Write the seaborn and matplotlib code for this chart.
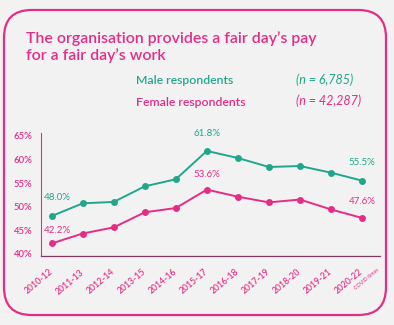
import matplotlib
matplotlib.use("Agg")
import matplotlib.pyplot as plt
import seaborn as sns
import pandas as pd
from matplotlib.patches import FancyBboxPatch

periods = ["2010-12", "2011-13", "2012-14", "2013-15", "2014-16", "2015-17",
           "2016-18", "2017-19", "2018-20", "2019-21", "2020-22"]
male = [48.0, 50.7, 51.0, 54.3, 55.8, 61.8, 60.3, 58.4, 58.6, 57.2, 55.5]
female = [42.2, 44.3, 45.6, 48.8, 49.7, 53.6, 52.1, 50.9, 51.5, 49.4, 47.6]
ytick_vals = [40, 45, 50, 55, 60, 65]
title_lines = ["The organisation provides a fair day\u2019s pay", "for a fair day\u2019s work"]
legend_names = ["Male respondents", "Female respondents"]
legend_ns = ["(n = 6,785)", "(n = 42,287)"]

TEAL = "#21a68b"
PINK = "#e52d86"
SPINE = "#7d3a64"
BG = "#f2f2f2"

sns.set_theme(style="white")
plt.rcParams["font.family"] = ["Lato", "DejaVu Sans"]

W, H = 394, 325
fig = plt.figure(figsize=(W / 100, H / 100), dpi=100, facecolor=BG)

def fx(px):
    return px / W

def fy(py):
    return 1 - py / H

# rounded border
border = FancyBboxPatch((fx(4), fy(315)), fx(386) - fx(4), fy(10) - fy(315),
                        boxstyle="round,pad=0,rounding_size=0.07",
                        transform=fig.transFigure, facecolor="none",
                        edgecolor=PINK, linewidth=1.6, mutation_aspect=W / H)
fig.patches.append(border)

ax = fig.add_axes([fx(40.7), fy(255.7), fx(380) - fx(40.7), fy(133) - fy(255.7)])
ax.set_facecolor(BG)

df = pd.DataFrame({
    "period": periods * 2,
    "value": male + female,
    "group": ["Male"] * len(periods) + ["Female"] * len(periods),
})
sns.lineplot(data=df, x="period", y="value", hue="group",
             palette={"Male": TEAL, "Female": PINK}, marker="o",
             markersize=5, markeredgewidth=0, linewidth=1.4, legend=False, ax=ax)

ax.set_xlim(-0.355, 10.58)
ax.set_ylim(39.6, 65.6)
ax.set_xlabel("")
ax.set_ylabel("")
ax.set_yticks(ytick_vals)
ax.set_yticklabels([f"{v}%" for v in ytick_vals], color=PINK, fontsize=6.8,
                   fontweight="semibold")
ax.set_xticks(range(len(periods)))
ax.set_xticklabels(periods, rotation=40, ha="right", va="center",
                   rotation_mode="anchor", color=PINK, fontsize=6.2,
                   fontweight="semibold")
ax.tick_params(axis="y", length=0, pad=6)
ax.tick_params(axis="x", length=0, pad=11)
for lab in ax.get_yticklabels():
    lab.set_horizontalalignment("right")

for s in ["top", "right"]:
    ax.spines[s].set_visible(False)
ax.spines["left"].set_color(PINK)
ax.spines["left"].set_linewidth(0.8)
ax.spines["bottom"].set_color(SPINE)
ax.spines["bottom"].set_linewidth(0.9)

# COVID note
ax.annotate("COVID times", xy=(10, 0), xycoords=("data", "axes fraction"),
            xytext=(16, -14), textcoords="offset pixels", rotation=40,
            rotation_mode="anchor", ha="right", va="center", fontsize=3.8,
            color=PINK)

# value labels
def vlabel(i, vals, color, dy):
    ax.annotate(f"{vals[i]:.1f}%", xy=(i, vals[i]), xytext=(0, dy),
                textcoords="offset pixels", ha="center", va="center",
                fontsize=7, color=color)

ax.annotate(f"{male[0]:.1f}%", xy=(0, male[0]), xytext=(-8, 19),
            textcoords="offset pixels", ha="left", va="center", fontsize=7, color=TEAL)
ax.annotate(f"{female[0]:.1f}%", xy=(0, female[0]), xytext=(-8, 13),
            textcoords="offset pixels", ha="left", va="center", fontsize=7, color=PINK)
vlabel(5, male, TEAL, 17)
vlabel(5, female, PINK, 15)
vlabel(10, male, TEAL, 18)
vlabel(10, female, PINK, 16)

# title
fig.text(fx(26), fy(43.3), title_lines[0], color=PINK, fontsize=11.4,
         fontweight="semibold", ha="left", va="baseline")
fig.text(fx(26), fy(60), title_lines[1], color=PINK, fontsize=11.4,
         fontweight="semibold", ha="left", va="baseline")

# legend text
fig.text(fx(136), fy(84.5), legend_names[0], color=TEAL, fontsize=8.8,
         fontweight="semibold", ha="left", va="baseline")
fig.text(fx(136), fy(105.5), legend_names[1], color=PINK, fontsize=8.8,
         fontweight="semibold", ha="left", va="baseline")
fig.text(fx(353), fy(84.5), legend_ns[0], color=TEAL, fontsize=9,
         style="italic", ha="right", va="baseline")
fig.text(fx(361), fy(105.5), legend_ns[1], color=PINK, fontsize=9,
         style="italic", ha="right", va="baseline")

fig.savefig("out.png", dpi=100, facecolor=BG)
